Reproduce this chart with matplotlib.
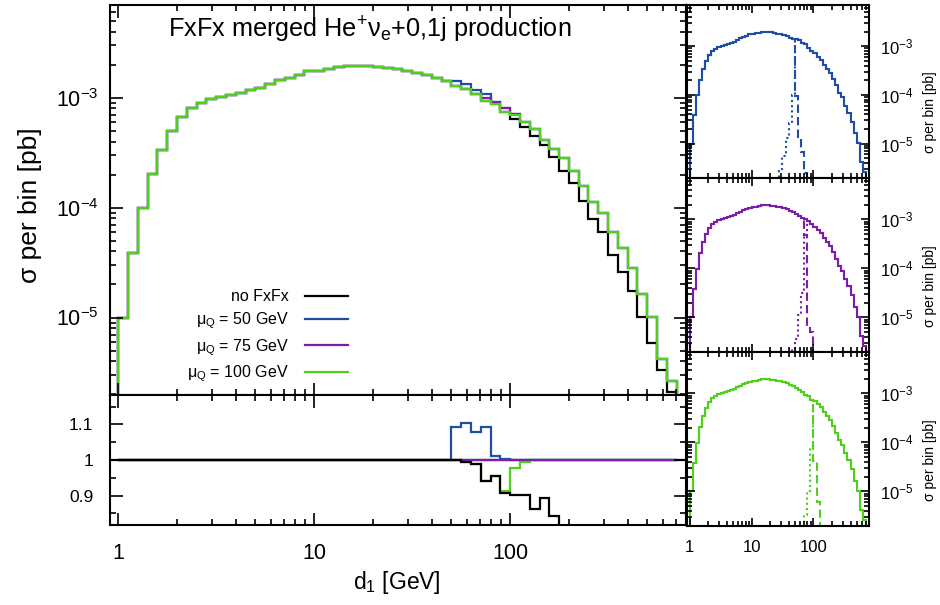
import numpy as np
import matplotlib.pyplot as plt
from matplotlib.ticker import FixedLocator, FuncFormatter, LogLocator, NullFormatter, MultipleLocator

plt.rcParams['font.family'] = ['Liberation Sans', 'DejaVu Sans']
plt.rcParams['mathtext.fontset'] = 'custom'
plt.rcParams['mathtext.rm'] = 'Liberation Sans'
plt.rcParams['mathtext.it'] = 'Liberation Sans:italic'
plt.rcParams['mathtext.default'] = 'regular'

# bins: 20 per decade starting at d1 = 1 GeV
n_bins = 57
edges = 10 ** (np.arange(n_bins + 1) / 20.0)

no_fxfx = [1.00e-5, 3.89e-5, 9.86e-5, 2.03e-4, 3.38e-4, 5.04e-4, 6.65e-4, 8.04e-4, 8.93e-4, 9.79e-4,
           1.01e-3, 1.07e-3, 1.11e-3, 1.17e-3, 1.24e-3, 1.35e-3, 1.45e-3, 1.53e-3, 1.63e-3, 1.74e-3,
           1.77e-3, 1.83e-3, 1.90e-3, 1.94e-3, 1.95e-3, 1.94e-3, 1.92e-3, 1.86e-3, 1.82e-3, 1.77e-3,
           1.69e-3, 1.60e-3, 1.50e-3, 1.41e-3, 1.29e-3, 1.194e-3, 1.079e-3, 9.42e-4, 8.72e-4, 7.36e-4,
           6.43e-4, 5.45e-4, 4.49e-4, 3.72e-4, 2.89e-4, 2.14e-4, 1.66e-4, 1.14e-4, 7.89e-5, 6.00e-5,
           3.70e-5, 2.61e-5, 1.76e-5, 1.02e-5, 5.85e-6, 3.31e-6, 2.11e-6]
mu50 = [1.00e-5, 3.89e-5, 9.86e-5, 2.03e-4, 3.38e-4, 5.04e-4, 6.65e-4, 8.04e-4, 8.93e-4, 9.79e-4,
        1.01e-3, 1.07e-3, 1.11e-3, 1.17e-3, 1.24e-3, 1.35e-3, 1.45e-3, 1.53e-3, 1.63e-3, 1.74e-3,
        1.77e-3, 1.83e-3, 1.90e-3, 1.94e-3, 1.95e-3, 1.94e-3, 1.92e-3, 1.86e-3, 1.82e-3, 1.77e-3,
        1.69e-3, 1.60e-3, 1.50e-3, 1.41e-3, 1.411e-3, 1.324e-3, 1.177e-3, 1.093e-3, 9.21e-4, 8.13e-4,
        7.14e-4, 6.04e-4, 5.21e-4, 4.17e-4, 3.43e-4, 2.81e-4, 2.17e-4, 1.56e-4, 1.12e-4, 9.0e-5,
        5.96e-5, 4.30e-5, 2.82e-5, 1.62e-5, 1.02e-5, 4.20e-6, 2.65e-6]
mu75 = [1.00e-5, 3.89e-5, 9.86e-5, 2.03e-4, 3.38e-4, 5.04e-4, 6.65e-4, 8.04e-4, 8.93e-4, 9.79e-4,
        1.01e-3, 1.07e-3, 1.11e-3, 1.17e-3, 1.24e-3, 1.35e-3, 1.45e-3, 1.53e-3, 1.63e-3, 1.74e-3,
        1.77e-3, 1.83e-3, 1.90e-3, 1.94e-3, 1.95e-3, 1.94e-3, 1.92e-3, 1.86e-3, 1.82e-3, 1.77e-3,
        1.69e-3, 1.60e-3, 1.50e-3, 1.41e-3, 1.29e-3, 1.20e-3, 1.09e-3, 1.00e-3, 9.12e-4, 8.11e-4,
        7.14e-4, 6.04e-4, 5.21e-4, 4.17e-4, 3.43e-4, 2.81e-4, 2.17e-4, 1.56e-4, 1.12e-4, 9.0e-5,
        5.96e-5, 4.30e-5, 2.82e-5, 1.62e-5, 1.02e-5, 4.20e-6, 2.65e-6]
mu100 = [1.00e-5, 3.89e-5, 9.86e-5, 2.03e-4, 3.38e-4, 5.04e-4, 6.65e-4, 8.04e-4, 8.93e-4, 9.79e-4,
         1.01e-3, 1.07e-3, 1.11e-3, 1.17e-3, 1.24e-3, 1.35e-3, 1.45e-3, 1.53e-3, 1.63e-3, 1.74e-3,
         1.77e-3, 1.83e-3, 1.90e-3, 1.94e-3, 1.95e-3, 1.94e-3, 1.92e-3, 1.86e-3, 1.82e-3, 1.77e-3,
         1.69e-3, 1.60e-3, 1.50e-3, 1.41e-3, 1.29e-3, 1.194e-3, 1.079e-3, 9.42e-4, 8.72e-4, 7.40e-4,
         6.97e-4, 6.00e-4, 5.21e-4, 4.17e-4, 3.43e-4, 2.81e-4, 2.17e-4, 1.56e-4, 1.12e-4, 9.0e-5,
         5.96e-5, 4.30e-5, 2.82e-5, 1.62e-5, 1.02e-5, 4.20e-6, 2.65e-6]

# 0-jet (dashed) tails above the merging scale and 1-jet (dotted) heads below it
mu50_dash_tail, mu50_dash_start = [9.3e-5, 1.4e-5, 6.6e-6, 2.5e-6], 34
mu50_dot_head, mu50_dot_start = [2.8e-6, 5.5e-6, 1.3e-5, 2.6e-5, 1.0e-4], 29
mu75_dash_tail, mu75_dash_start = [4.8e-4, 6.8e-6, 5.0e-6], 37
mu75_dot_head, mu75_dot_start = [2.3e-6, 3.7e-6, 1.1e-5, 3.2e-5, 4.7e-4], 33
mu100_dash_tail, mu100_dash_start = [4.1e-5, 6.2e-6], 40
mu100_dot_head, mu100_dot_start = [3.3e-6, 1.0e-5, 7.6e-5], 37

labels = ['no FxFx', 'μ$_Q$ = 50 GeV', 'μ$_Q$ = 75 GeV', 'μ$_Q$ = 100 GeV']
colors = ['#000000', '#1f4ea3', '#7c1ea6', '#4fd11c']
series = [no_fxfx, mu50, mu75, mu100]

xlim = (0.908, 790)
ylim = (1.97e-6, 7.0e-3)
W, H = 940, 605


def box(x0, y0, x1, y1):
    return [x0 / W, 1 - y1 / H, (x1 - x0) / W, (y1 - y0) / H]


def style(ax, major=9, minor=4.5):
    for s in ax.spines.values():
        s.set_linewidth(1.5)
    ax.tick_params(which='both', direction='in', top=True, right=True, width=1.2)
    ax.tick_params(which='major', length=major)
    ax.tick_params(which='minor', length=minor)


def pow_fmt(v, pos):
    return '10$^{%d}$' % round(np.log10(v))


fig = plt.figure(figsize=(9.4, 6.05), dpi=100)
ax = fig.add_axes(box(110, 5, 686, 395))
axr = fig.add_axes(box(110, 395, 686, 525))

for vals, c, lab in zip(series, colors, labels):
    ax.stairs(vals, edges, baseline=1e-9, color=c, lw=1.6, label=lab)
ax.set_xscale('log')
ax.set_yscale('log')
ax.set_xlim(*xlim)
ax.set_ylim(*ylim)
ax.yaxis.set_major_locator(FixedLocator([1e-5, 1e-4, 1e-3]))
ax.yaxis.set_major_formatter(FuncFormatter(pow_fmt))
ax.yaxis.set_minor_locator(LogLocator(base=10, subs=np.arange(2, 10), numticks=20))
ax.yaxis.set_minor_formatter(NullFormatter())
ax.tick_params(labelbottom=False, labelsize=15.5, pad=8)
style(ax)
ax.text(0.451, 0.936, 'FxFx merged He$^{+}$ν$_{e}$+0,1j production', transform=ax.transAxes,
        ha='center', va='center', fontsize=18.2)
ax.legend(loc='upper right', bbox_to_anchor=(0.413, 0.271), frameon=False, markerfirst=False,
          borderpad=0, borderaxespad=0, handlelength=2.7, handletextpad=1.0, labelspacing=0.38,
          fontsize=11.5)

# ratio to the mu_Q = 75 GeV sample
ref = np.array(mu75)
axr.axhline(1.0, color='k', lw=1.6, zorder=1)
for i in [1, 3, 2, 0]:
    axr.stairs(np.array(series[i]) / ref, edges, baseline=None, color=colors[i], lw=1.6)
axr.set_xscale('log')
axr.set_xlim(*xlim)
axr.set_ylim(0.817, 1.183)
axr.yaxis.set_major_locator(FixedLocator([0.9, 1.0, 1.1]))
axr.yaxis.set_major_formatter(FuncFormatter(lambda v, p: '%g' % v))
axr.yaxis.set_minor_locator(MultipleLocator(0.05))
axr.xaxis.set_major_formatter(FuncFormatter(lambda v, p: '%g' % v))
axr.xaxis.set_minor_formatter(NullFormatter())
axr.tick_params(axis='x', labelsize=15.5, pad=13)
axr.tick_params(axis='y', labelsize=12.5, pad=12)
style(axr)

fig.text(30 / W, 1 - 205 / H, 'σ per bin [pb]', rotation=90, ha='center', va='center', fontsize=19)
fig.text(397 / W, 1 - 582 / H, 'd$_1$ [GeV]', ha='center', va='center', fontsize=16.5)

# side panels: one per merging scale
panels = [
    (mu50, colors[1], mu50_dash_tail, mu50_dash_start, mu50_dot_head, mu50_dot_start, (5, 178)),
    (mu75, colors[2], mu75_dash_tail, mu75_dash_start, mu75_dot_head, mu75_dot_start, (178, 352)),
    (mu100, colors[3], mu100_dash_tail, mu100_dash_start, mu100_dot_head, mu100_dot_start, (352, 526)),
]
for j, (vals, c, dtail, ds, dhead, hs, (y0, y1)) in enumerate(panels):
    a = fig.add_axes(box(687, y0, 869, y1))
    a.stairs(vals, edges, baseline=1e-9, color=c, lw=1.5)
    dash = list(vals[:ds]) + dtail
    a.stairs(dash, edges[:len(dash) + 1], baseline=1e-9, color=c, lw=1.5, linestyle=(0, (4, 2)))
    dot = dhead + list(vals[hs + len(dhead):])
    a.stairs(dot, edges[hs:], baseline=1e-9, color=c, lw=1.5, linestyle=(0, (1, 1.5)))
    a.set_xscale('log')
    a.set_yscale('log')
    a.set_xlim(*xlim)
    a.set_ylim(*ylim)
    a.yaxis.set_major_locator(FixedLocator([1e-5, 1e-4, 1e-3]))
    a.yaxis.set_major_formatter(FuncFormatter(pow_fmt))
    a.yaxis.set_minor_locator(LogLocator(base=10, subs=np.arange(2, 10), numticks=20))
    a.yaxis.set_minor_formatter(NullFormatter())
    a.xaxis.set_major_formatter(FuncFormatter(lambda v, p: '%g' % v))
    a.xaxis.set_minor_formatter(NullFormatter())
    style(a, major=6, minor=3.5)
    a.tick_params(labelleft=False, labelright=True, labelbottom=(j == 2), labelsize=12, pad=8)
    a.tick_params(axis='x', labelsize=12, pad=10)
    fig.text(930 / W, 1 - ((y0 + y1) / 2 + 21) / H, 'σ per bin [pb]', rotation=90,
             ha='center', va='center', fontsize=10)

fig.savefig('out.png', dpi=100)
